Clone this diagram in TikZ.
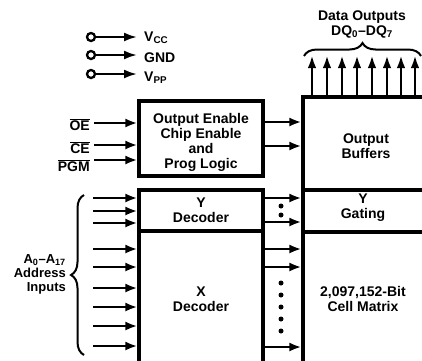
\documentclass[tikz,border=0pt]{standalone}
\usepackage{fontspec}
\setmainfont{Liberation Sans}
\usetikzlibrary{arrows.meta,decorations.pathreplacing}
\begin{document}
\begin{tikzpicture}[x=1pt,y=-1pt,
  txt/.style={font=\bfseries\fontsize{14}{15}\selectfont, align=center, inner sep=0pt},
  smalltxt/.style={font=\bfseries\fontsize{13}{14}\selectfont, align=right, inner sep=0pt},
  box/.style={draw, line width=3.2pt, inner sep=0pt},
  sig/.style={line width=2.5pt, -{Latex[length=12pt,width=9pt]}},
  pwr/.style={line width=2.2pt, -{Latex[length=13pt,width=9pt]}},
  upsig/.style={line width=2.8pt, -{Latex[length=13pt,width=8.5pt]}},
  term/.style={circle, draw, line width=2.3pt, minimum size=8pt, inner sep=0pt},
  dotm/.style={circle, fill, minimum size=5pt, inner sep=0pt},
  brc/.style={line width=2pt, decorate, decoration={brace, amplitude=13pt}},
]
\useasboundingbox (0,0) rectangle (422,360);
\clip (0,0) rectangle (422,360);

% power terminals
\foreach \n/\y in {vcc/37, gnd/55, vpp/74} {
  \node[term] (t\n) at (91,\y) {};
  \coordinate (e\n) at (137,\y);
  \draw[pwr] (t\n) -- (e\n);
}
\node[txt, anchor=base west] (lvcc) at (144,41) {V\textsubscript{CC}};
\node[txt, anchor=base west] (lgnd) at (144,62) {GND};
\node[txt, anchor=base west] (lvpp) at (144,81) {V\textsubscript{PP}};

% boxes
\node[box, minimum width=124pt, minimum height=75pt] (ctl) at (201,138.5) {};
\node[txt] (ctltxt) at (201,142.5) {Output Enable\\Chip Enable\\and\\Prog Logic};
\node[box, minimum width=140pt, minimum height=290pt] (col) at (373,242) {};
\draw[line width=3.2pt] (303,190) -- (440,190);
\draw[line width=3.2pt] (303,232) -- (440,232);
\node[box, minimum width=124pt, minimum height=41pt] (ydec) at (201,210.5) {};
\node[box, minimum width=124pt, minimum height=160pt] (xdec) at (201,311) {};

% texts in boxes
\node[txt] (obuf) at (366,146) {Output\\Buffers};
\node[txt] (ygt) at (363,208) {Y\\Gating};
\node[txt] (ydt) at (201,210) {Y\\Decoder};
\node[txt] (xdt) at (201,299) {X\\Decoder};
\node[txt] (cmt) at (363,298.5) {2,097,152-Bit\\Cell Matrix};

% control inputs
\node[txt, anchor=east] (loe) at (90,125) {$\overline{\hbox{OE}}$};
\node[txt, anchor=east] (lce) at (90,147.5) {$\overline{\hbox{CE}}$};
\node[txt, anchor=east] (lpgm) at (90,165.5) {$\overline{\hbox{PGM}}$};
\foreach \y in {123,145,160}
  \draw[sig] (94,\y) -- (ctl.west |- 0,\y);

% control to output buffers
\foreach \y in {122,146}
  \draw[sig] (ctl.east |- 0,\y) -- (col.west |- 0,\y);

% address inputs
\foreach \y in {198,211,223}
  \draw[sig] (93,\y) -- (ydec.west |- 0,\y);
\foreach \y in {249,267,288,307,326,346}
  \draw[sig] (93,\y) -- (xdec.west |- 0,\y);
\draw[brc] (84,355) -- (84,195);
\node[smalltxt, anchor=east] (addr) at (66,274) {A\textsubscript{0}–A\textsubscript{17}\\Address\\Inputs};

% decoders to matrix
\foreach \y in {198,222}
  \draw[sig] (ydec.east |- 0,\y) -- (col.west |- 0,\y);
\foreach \y in {249,267,347}
  \draw[sig] (xdec.east |- 0,\y) -- (col.west |- 0,\y);
\foreach \y in {206,215}
  \node[dotm] at (281,\y) {};
\foreach \y in {283,295,307,319,331}
  \node[dotm] at (281,\y) {};

% data outputs
\foreach \x in {312,327,342,357,372,387,401,415}
  \draw[upsig] (col.north -| \x,0) -- (\x,55);
\draw[brc] (304,56) -- (421,56);
\node[txt] (dout) at (362,24.5) {Data Outputs\\DQ\textsubscript{0}–DQ\textsubscript{7}};
\end{tikzpicture}
\end{document}
